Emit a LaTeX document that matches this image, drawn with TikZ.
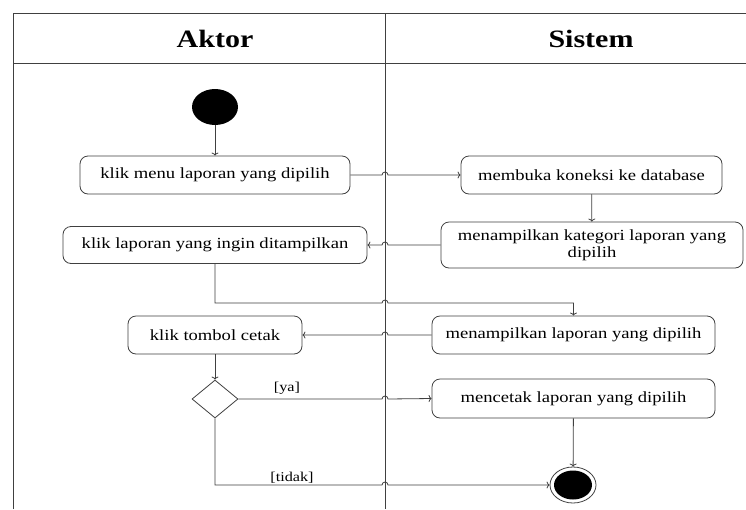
\documentclass[tikz,border=0pt]{standalone}
\usepackage{fontspec}
\setmainfont[FakeStretch=1.2]{Liberation Serif}
\usetikzlibrary{shapes.geometric,calc,arrows.meta}
\definecolor{lncol}{HTML}{404040}
\begin{document}
\begin{tikzpicture}[x=1pt,y=-1pt,
  ln/.style={draw=lncol,line width=0.8pt},
  act/.style={draw=lncol,line width=0.8pt,rounded corners=8pt,fill=white,inner sep=0pt,
    font=\fontsize{15.5}{17}\selectfont,align=center},
  arr/.style={draw=lncol,line width=0.8pt,-{To[length=3pt,width=7pt]}},
  lbl/.style={font=\fontsize{13.5}{15}\selectfont,inner sep=0pt},
  ttl/.style={font=\fontsize{25}{28}\selectfont\bfseries}]
\useasboundingbox (0,0) rectangle (746,509);
\fill[white] (0,0) rectangle (746,509);
% frame
\draw[ln] (13,509) -- (13,13) -- (746,13);
\draw[ln] (13,63) -- (746,63);
\coordinate (dv) at (385,13);
\draw[ln] (385,13) -- (385,509);
% titles
\node[ttl] (ta) at (215,39) {Aktor};
\node[ttl] (ts) at (591,39) {Sistem};
% nodes
\node[ellipse,fill=black,minimum width=46pt,minimum height=36pt,inner sep=0pt] (start) at (215,107) {};
\node[act,minimum width=270pt,minimum height=38pt] (n1) at (215,175) {klik menu laporan yang dipilih};
\node[act,minimum width=304pt,minimum height=37pt] (n2) at (215,245) {klik laporan yang ingin ditampilkan};
\node[act,minimum width=261pt,minimum height=38pt] (n3) at (591.5,175) {membuka koneksi ke database};
\node[act,minimum width=302pt,minimum height=46pt] (n4) at (592,245) {menampilkan kategori laporan yang\\dipilih};
\node[act,minimum width=283pt,minimum height=38pt] (n5) at (573.5,335) {menampilkan laporan yang dipilih};
\node[act,minimum width=174pt,minimum height=38pt] (n6) at (215,335) {klik tombol cetak};
\node[diamond,draw=lncol,line width=0.8pt,minimum width=46pt,minimum height=38pt,inner sep=0pt] (dec) at (215,399) {};
\node[act,minimum width=283pt,minimum height=39pt] (n7) at (573.5,398.5) {mencetak laporan yang dipilih};
\node[ellipse,draw=lncol,line width=0.8pt,minimum width=46pt,minimum height=36pt,inner sep=0pt] (end) at (573,485) {};
\node[ellipse,fill=black,minimum width=38pt,minimum height=29pt,inner sep=0pt] (endin) at (573,485) {};
% row levels
\coordinate (r1) at (0,303);
% connectors
\draw[arr] (start) -- (n1);
\draw[arr] (n1.east) -- ($(n1.east -| dv)+(-3,0)$) arc[start angle=180,end angle=360,radius=3] -- (n3.west);
\draw[arr] (n3) -- (n4);
\draw[arr] (n4.west) -- ($(n4.west -| dv)+(3,0)$) arc[start angle=0,end angle=-180,radius=3] -- (n2.east);
\draw[arr] (n2.south) -- (n2.south |- r1) -- ($(dv |- r1)+(-3,0)$) arc[start angle=180,end angle=360,radius=3] -- (n5.north |- r1) -- (n5.north);
\draw[arr] (n5.west) -- ($(n5.west -| dv)+(3,0)$) arc[start angle=0,end angle=-180,radius=3] -- (n6.east);
\draw[arr] (n6) -- (dec);
\draw[arr] (dec.east) -- ($(dec.east -| dv)+(-3,0)$) arc[start angle=180,end angle=360,radius=3] -- (n7.west);
\draw[arr] (n7) -- (end);
\draw[arr] (dec.south) -- (dec.south |- end) -- ($(dv |- end)+(-3,0)$) arc[start angle=180,end angle=360,radius=3] -- (end.west);
% labels
\node[lbl] (lya) at (287,388) {[ya]};
\node[lbl] (ltd) at (292,478) {[tidak]};
\end{tikzpicture}
\end{document}
